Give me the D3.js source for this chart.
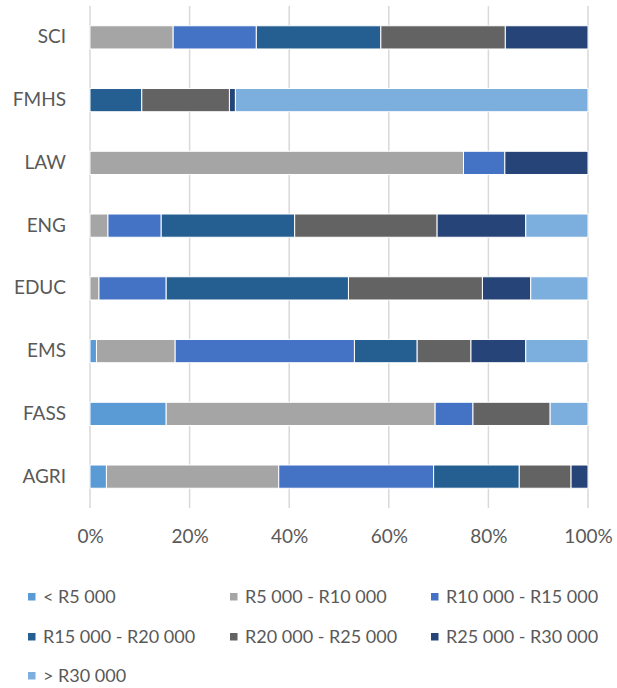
<!DOCTYPE html>
<html>
<head>
<meta charset="utf-8">
<script src="https://cdn.jsdelivr.net/npm/d3@7"></script>
<style>
  body { margin: 0; background: #fff; }
  text { font-family: Lato, "Open Sans", sans-serif; fill: #595959; }
</style>
</head>
<body>
<svg id="chart" width="617" height="688"></svg>
<script>
// faculties, top to bottom
const faculties = ['SCI', 'FMHS', 'LAW', 'ENG', 'EDUC', 'EMS', 'FASS', 'AGRI']
const bands = ['< R5 000', 'R5 000 - R10 000', 'R10 000 - R15 000', 'R15 000 - R20 000',
  'R20 000 - R25 000', 'R25 000 - R30 000', '> R30 000']
const bandColors = ['#5B9BD5', '#A5A5A5', '#4472C4', '#255E91', '#636363', '#264478', '#7CAFDD']
const tickValues = [0, 0.2, 0.4, 0.6, 0.8, 1]

// share (%) of each band, one array per faculty, in band order
const sci  = [0, 16.7, 16.7, 25.0, 25.0, 16.6, 0]
const fmhs = [0, 0, 0, 10.4, 17.6, 1.2, 70.8]
const law  = [0, 75.0, 8.3, 0, 0, 16.7, 0]
const eng  = [0, 3.6, 10.7, 26.8, 28.6, 17.8, 12.5]
const educ = [0, 1.8, 13.5, 36.6, 26.9, 9.7, 11.5]
const ems  = [1.3, 15.8, 36.0, 12.6, 10.8, 11.0, 12.5]
const fass = [15.3, 54.0, 7.6, 0, 15.5, 0, 7.6]
const agri = [3.3, 34.6, 31.1, 17.2, 10.4, 3.4, 0]
const shares = [sci, fmhs, law, eng, educ, ems, fass, agri]

const svg = d3.select('#chart')
const margin = { left: 90, right: 29, top: 6, bottom: 180 }
const width = 617 - margin.left - margin.right
const height = 688 - margin.top - margin.bottom

const rows = faculties.map((f, i) => {
  const row = { faculty: f }
  const total = d3.sum(shares[i])
  bands.forEach((b, j) => { row[b] = shares[i][j] / total })
  return row
})
const series = d3.stack().keys(bands)(rows)

const x = d3.scaleLinear().domain([0, 1]).range([0, width])
const y = d3.scaleBand().domain(faculties).range([0, height]).paddingInner(0.63).paddingOuter(0.315)
const color = d3.scaleOrdinal().domain(bands).range(bandColors)

const g = svg.append('g').attr('transform', `translate(${margin.left},${margin.top})`)

// gridlines
g.selectAll('.grid')
  .data(tickValues)
  .join('line')
  .attr('x1', d => x(d)).attr('x2', d => x(d))
  .attr('y1', 0).attr('y2', height)
  .attr('stroke', '#d9d9d9').attr('stroke-width', 1.5)

// bars
g.selectAll('.series')
  .data(series)
  .join('g')
  .attr('fill', d => color(d.key))
  .selectAll('rect')
  .data(d => d)
  .join('rect')
  .attr('x', d => x(d[0]))
  .attr('y', d => y(d.data.faculty))
  .attr('width', d => Math.max(0, x(d[1]) - x(d[0])))
  .attr('height', y.bandwidth())
  .attr('stroke', '#fff').attr('stroke-width', 1)

// y labels
g.append('g')
  .call(d3.axisLeft(y).tickSize(0).tickPadding(24))
  .call(a => a.select('.domain').remove())
  .selectAll('text')
  .style('font-size', '19px').attr('fill', '#595959')

// x labels
g.append('g')
  .attr('transform', `translate(0,${height})`)
  .call(d3.axisBottom(x).tickValues(tickValues).tickFormat(d3.format('.0%')).tickSize(0).tickPadding(22))
  .call(a => a.select('.domain').remove())
  .selectAll('text')
  .style('font-size', '19px').attr('fill', '#595959')

// legend, 3 columns
const colX = [28, 230, 431]
const rowY = [597, 637, 676]
const legend = svg.append('g')
  .selectAll('g')
  .data(bands)
  .join('g')
  .attr('transform', (d, i) => `translate(${colX[i % 3]},${rowY[Math.floor(i / 3)]})`)
legend.append('rect')
  .attr('x', 0).attr('y', -4).attr('width', 7.5).attr('height', 7.5)
  .attr('fill', d => color(d))
legend.append('text')
  .attr('x', 15).attr('y', 0).attr('dy', '0.35em')
  .style('font-size', '18px')
  .text(d => d)
</script>
</body>
</html>
